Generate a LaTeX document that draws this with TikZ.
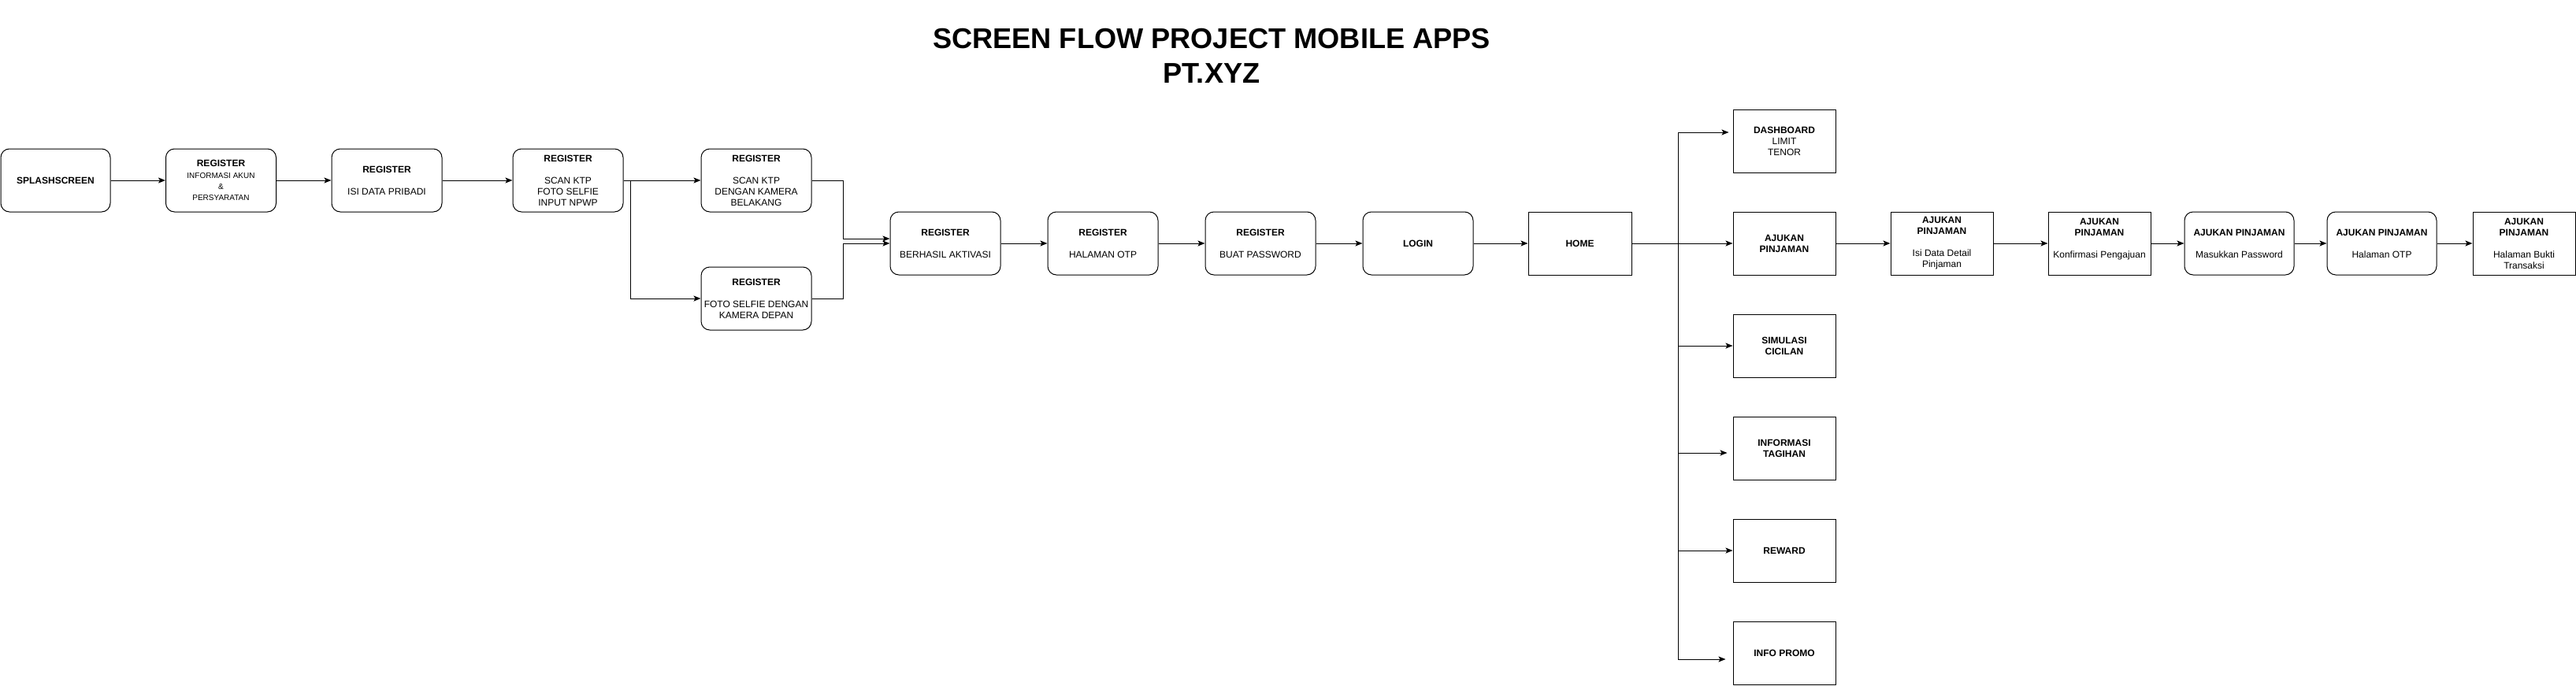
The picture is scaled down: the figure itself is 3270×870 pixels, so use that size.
\documentclass[tikz,border=0pt]{standalone}
\usepackage{fontspec}
\setmainfont{Liberation Sans}
\usetikzlibrary{arrows.meta}
\newcommand\smalltxt[1]{{\fontsize{10}{15}\selectfont #1}}

\begin{document}
\begin{tikzpicture}[x=1pt, y=-1pt,
    screen/.style={draw, line width=1pt, rounded corners=11pt, align=center,
      minimum width=140pt, minimum height=80pt, inner sep=1pt,
      font=\fontsize{12}{14}\selectfont},
    page/.style={screen, rounded corners=0pt, minimum width=130pt},
    arr/.style={line width=1pt, -{Stealth[length=9pt, width=7pt, inset=2pt]}},
  ]
  \useasboundingbox (0,0) rectangle (3270,870);

  % Title
  \node[align=center, font=\fontsize{36.2}{44}\selectfont\bfseries] (title) at (1538, 71)
    {SCREEN FLOW PROJECT MOBILE APPS\\PT.XYZ};

  % Registration
  \node[screen, minimum width=139pt] (sp) at (70.5, 229) {\textbf{SPLASHSCREEN}};
  \node[screen] (r1) at (280.5, 229) {\textbf{REGISTER}\\[1pt]
    \smalltxt{INFORMASI AKUN}\\ \smalltxt{\&}\\ \smalltxt{PERSYARATAN}};
  \node[screen] (r2) at (491, 229) {\textbf{REGISTER}\\[14pt] ISI DATA PRIBADI};
  \node[screen] (r3) at (721, 229) {\textbf{REGISTER}\\[14pt] SCAN KTP\\ FOTO SELFIE\\ INPUT NPWP};
  \node[screen] (r4) at (960, 229) {\textbf{REGISTER}\\[14pt] SCAN KTP\\ DENGAN KAMERA\\ BELAKANG};
  \node[screen] (r5) at (960, 379) {\textbf{REGISTER}\\[14pt] FOTO SELFIE DENGAN\\ KAMERA DEPAN};
  \node[screen] (r6) at (1200, 309) {\textbf{REGISTER}\\[14pt] BERHASIL AKTIVASI};
  \node[screen] (r7) at (1400, 309) {\textbf{REGISTER}\\[14pt] HALAMAN OTP};
  \node[screen] (r8) at (1600, 309) {\textbf{REGISTER}\\[14pt] BUAT PASSWORD};
  \node[screen] (lg) at (1800, 309) {\textbf{LOGIN}};

  % Home and menu
  \node[page, minimum width=131pt] (hm) at (2005.5, 309) {\textbf{HOME}};
  \node[page] (db) at (2265, 179) {\textbf{DASHBOARD}\\ LIMIT\\ TENOR};
  \node[page] (aj) at (2265, 309) {\textbf{AJUKAN}\\ \textbf{PINJAMAN}};
  \node[page] (sc) at (2265, 439) {\textbf{SIMULASI}\\ \textbf{CICILAN}};
  \node[page] (it) at (2265, 569) {\textbf{INFORMASI}\\ \textbf{TAGIHAN}};
  \node[page] (rw) at (2265, 699) {\textbf{REWARD}};
  \node[page] (ip) at (2265, 829) {\textbf{INFO PROMO}};

  % Loan
  \node[page] (p1) at (2465, 309) {\textbf{AJUKAN}\\ \textbf{PINJAMAN}\\[14pt] Isi Data Detail\\ Pinjaman};
  \node[page] (p2) at (2665, 309) {\textbf{AJUKAN}\\ \textbf{PINJAMAN}\\[14pt] Konfirmasi Pengajuan\\ \mbox{}};
  \node[screen, minimum width=139pt] (p3) at (2842.5, 309) {\textbf{AJUKAN PINJAMAN}\\[14pt] Masukkan Password};
  \node[screen, minimum width=139pt] (p4) at (3023.5, 309) {\textbf{AJUKAN PINJAMAN}\\[14pt] Halaman OTP};
  \node[page] (p5) at (3204, 309) {\textbf{AJUKAN}\\ \textbf{PINJAMAN}\\[14pt] Halaman Bukti\\ Transaksi};

  \coordinate (s1) at (800, 229);
  \coordinate (s2) at (2130, 309);

  \draw[arr] (sp) -- (r1);
  \draw[arr] (r1) -- (r2);
  \draw[arr] (r2) -- (r3);
  \draw[arr] (r3) -- (r4);
  \draw[arr] (s1) |- (r5.west);
  \draw[arr] (r4.east) -- ++(40,0) |- ([yshift=6pt]r6.west);
  \draw[arr] (r5.east) -- ++(40,0) |- (r6.west);
  \draw[arr] (r6) -- (r7);
  \draw[arr] (r7) -- (r8);
  \draw[arr] (r8) -- (lg);
  \draw[arr] (lg) -- (hm);
  \draw[arr] (hm) -- (aj);
  \draw[arr] (s2) |- ([xshift=-5pt, yshift=11pt]db.west);
  \draw[arr] (s2) |- (sc.west);
  \draw[arr] (s2) |- ([xshift=-7pt, yshift=-6pt]it.west);
  \draw[arr] (s2) |- (rw.west);
  \draw[arr] (s2) |- ([xshift=-9pt, yshift=-8pt]ip.west);
  \draw[arr] (aj) -- (p1);
  \draw[arr] (p1) -- (p2);
  \draw[arr] (p2) -- (p3);
  \draw[arr] (p3) -- (p4);
  \draw[arr] (p4) -- (p5);
\end{tikzpicture}
\end{document}
